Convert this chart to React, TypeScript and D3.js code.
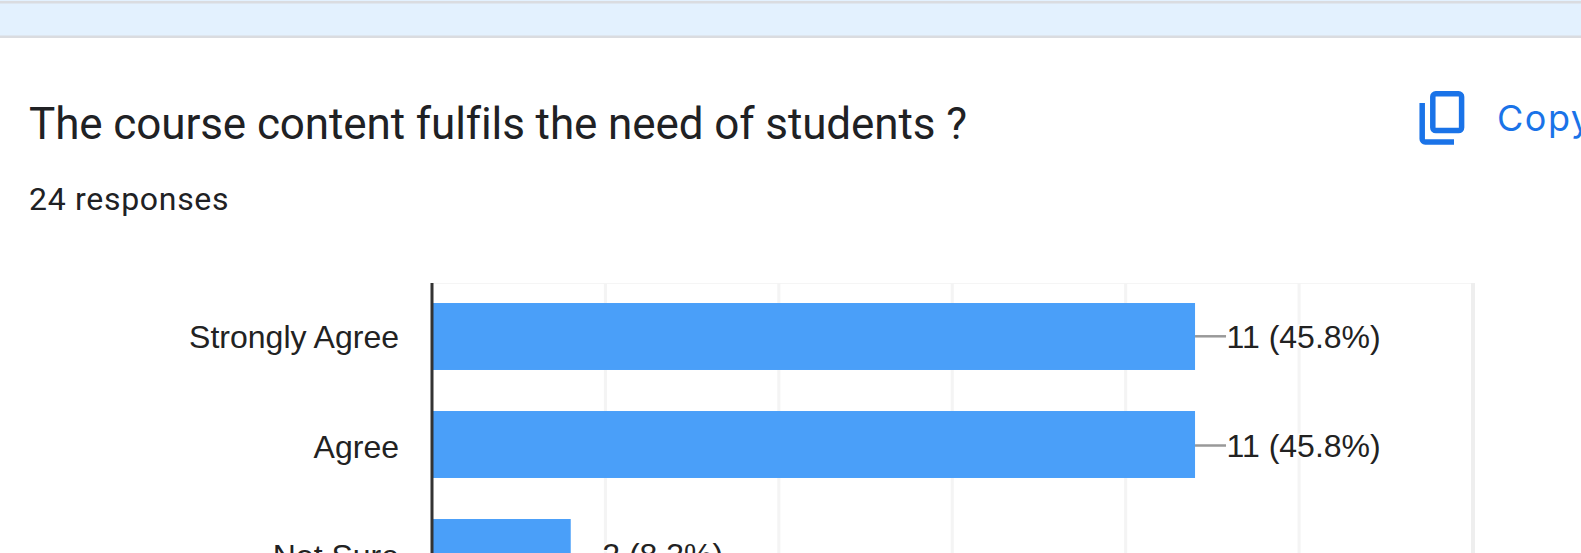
import React from "react";
import * as d3 from "d3";

const categories = ["Strongly Agree", "Agree", "Not Sure"];
const counts = [11, 11, 2];
const valueLabels = ["11 (45.8%)", "11 (45.8%)", "2 (8.3%)"];
const gridValues = [2.5, 5, 7.5, 10, 12.5, 15];

const W = 1581;
const H = 553;

export default function App() {
  const x = d3.scaleLinear().domain([0, 15]).range([432, 1472.5]);
  const y = d3.scaleBand<string>().domain(categories).range([282.5, 606.5]).paddingInner(0.38).paddingOuter(0.19);
  const labelY = d3.scalePoint<string>().domain(categories).range([336.3, 554.7]);
  const bh = y.bandwidth();
  const chartFont = "'Liberation Sans', Arial, sans-serif";
  return (
    <svg width={W} height={H} viewBox={`0 0 ${W} ${H}`} style={{ position: "fixed", left: 0, top: 0, background: "#fff" }}>
      <rect x={0} y={0} width={W} height={38} fill="#e3f1fe" />
      <rect x={0} y={1} width={W} height={2.5} fill="#dadce0" />
      <rect x={0} y={35.5} width={W} height={2.5} fill="#dadce0" />
      <text x={29} y={138.5} fontFamily="Roboto, sans-serif" fontSize={44} letterSpacing={-0.1} fill="#202124">The course content fulfils the need of students ?</text>
      <text x={29} y={209.5} fontFamily="Roboto, sans-serif" fontSize={32} letterSpacing={0.7} fill="#202124">24 responses</text>

      <g stroke="#1a73e8" fill="none" strokeWidth={5.5}>
        <rect x={1432.8} y={93.8} width={28.8} height={36.8} rx={3} />
        <path d="M1422.2 103 V139 a3 3 0 0 0 3 3 H1454" />
      </g>
      <text x={1497} y={130.5} fontFamily="Inter, sans-serif" fontSize={36} letterSpacing={1.5} fill="#1a73e8">Copy</text>

      <rect x={432} y={283} width={1041} height={1} fill="#f5f5f5" />
      {gridValues.map((v, i) => (
        <rect key={v} x={x(v) - 1.5} y={283} width={i === 5 ? 4 : 3} height={H - 283} fill={i === 5 ? "#eeeeee" : "#f4f4f4"} />
      ))}
      {categories.map((c, i) => {
        const by = y(c)!;
        const cy = labelY(c)!;
        return (
          <g key={c}>
            <rect x={x(0)} y={by} width={x(counts[i]) - x(0)} height={bh} fill="#4a9ff9" />
            <text x={399} y={cy + 12} textAnchor="end" fontFamily={chartFont} fontSize={32} fill="#222">{c}</text>
            <line x1={x(counts[i])} x2={x(counts[i]) + 31} y1={cy} y2={cy} stroke="#999" strokeWidth={2.5} />
            <text x={x(counts[i]) + 31.5} y={cy + 11.5} fontFamily={chartFont} fontSize={32} fill="#222" stroke="#fff" strokeWidth={3} paintOrder="stroke">{valueLabels[i]}</text>
          </g>
        );
      })}
      <rect x={430.5} y={283} width={3} height={H - 283} fill="#333" />
    </svg>
  );
}
